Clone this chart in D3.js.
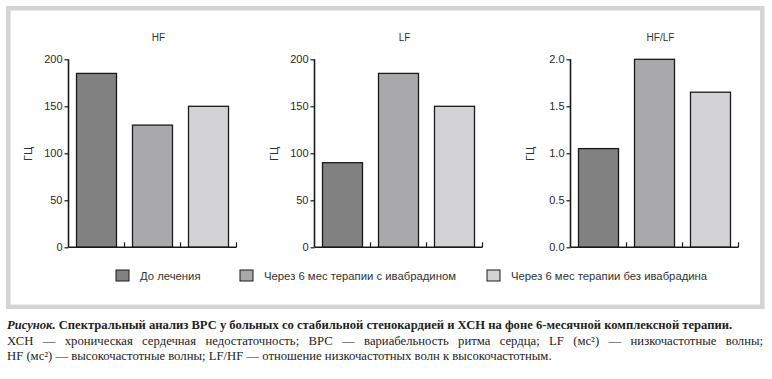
<!DOCTYPE html>
<html><head><meta charset="utf-8">
<script src="https://cdn.jsdelivr.net/npm/d3@7"></script>
<style>
html,body{margin:0;padding:0;background:#fff;}
svg{display:block;}
</style></head>
<body>
<script>
const groups = ["До лечения", "Через 6 мес терапии с ивабрадином", "Через 6 мес терапии без ивабрадина"];
const groupColors = ["#818182", "#a9a9ab", "#d3d3d5"];
const panelTitles = ["HF", "LF", "HF/LF"];
const hfValues = [185, 130, 150];
const lfValues = [90, 185, 150];
const ratioValues = [1.05, 2.0, 1.65];
const countTicks = [0, 50, 100, 150, 200];
const ratioTicks = [0, 0.5, 1.0, 1.5, 2.0];
const yLabel = "ГЦ";
const captionLines = [
  ["Рисунок.", " Спектральный анализ ВРС у больных со стабильной стенокардией и ХСН на фоне 6-месячной комплексной терапии."],
  "ХСН — хроническая сердечная недостаточность; ВРС — вариабельность ритма сердца; LF (мс²) — низкочастотные волны;",
  "HF (мс²) — высокочастотные волны; LF/HF — отношение низкочастотных волн к высокочастотным."
];

const panels = [
  {title: panelTitles[0], values: hfValues, ticks: countTicks, max: 200, fmt: d3.format("d")},
  {title: panelTitles[1], values: lfValues, ticks: countTicks, max: 200, fmt: d3.format("d")},
  {title: panelTitles[2], values: ratioValues, ticks: ratioTicks, max: 2, fmt: d3.format(".1f")}
];

const W = 772, H = 379;
const svg = d3.select("body").append("svg").attr("width", W).attr("height", H);

// frame
svg.append("rect").attr("x", 8.3).attr("y", 8.3).attr("width", 754).attr("height", 298.5)
  .attr("fill", "none").attr("stroke", "#d4d4d4").attr("stroke-width", 4.5);

const axisX = [68.5, 314.5, 570.5];
const plotW = 168, yTop = 59.3, yBot = 247.3;
const sans = "'Liberation Sans', Arial, sans-serif";
const p = 2/7;

panels.forEach((pn, i) => {
  const g = svg.append("g").attr("transform", `translate(${axisX[i]},0)`);
  const x = d3.scaleBand().domain(groups).range([0, plotW]).paddingInner(p).paddingOuter(p/2);
  const y = d3.scaleLinear().domain([0, pn.max]).range([yBot, yTop]);

  g.selectAll("rect.bar").data(pn.values).join("rect").attr("class", "bar")
    .attr("x", (d, j) => x(groups[j]))
    .attr("width", x.bandwidth())
    .attr("y", d => y(d))
    .attr("height", d => yBot - y(d))
    .attr("fill", (d, j) => groupColors[j])
    .attr("stroke", "#1a1a1a").attr("stroke-width", 1.3);

  const ya = g.append("g").call(d3.axisLeft(y).tickValues(pn.ticks).tickFormat(pn.fmt).tickSize(4).tickPadding(2));
  ya.select(".domain").attr("d", `M0,${yTop}V${yBot}`).attr("stroke", "#1a1a1a").attr("stroke-width", 1.6);
  ya.selectAll(".tick line").attr("stroke", "#1a1a1a").attr("stroke-width", 1.2);
  ya.selectAll(".tick text").attr("font-family", sans).attr("font-size", 11).attr("fill", "#2a2a2a");

  const xa = g.append("g").attr("transform", `translate(0,${yBot})`)
    .call(d3.axisBottom(x).tickSize(0).tickFormat(""));
  xa.select(".domain").attr("d", `M0,0H${plotW}`).attr("stroke", "#1a1a1a").attr("stroke-width", 1.6);
  xa.selectAll(".tick").remove();
  // band boundary ticks (pointing up)
  const bounds = groups.map(gname => x(gname) - x.step() * p / 2 + x.step());
  xa.selectAll("line.bt").data(bounds).join("line").attr("class", "bt")
    .attr("x1", d => d).attr("x2", d => d).attr("y1", 0).attr("y2", -5)
    .attr("stroke", "#1a1a1a").attr("stroke-width", 1.2);

  g.append("text").attr("x", 90).attr("y", 41).attr("text-anchor", "middle")
    .attr("font-family", sans).attr("font-size", 10).attr("fill", "#333").text(pn.title);

  g.append("text").attr("transform", `translate(${-40},${154}) rotate(-90)`)
    .attr("text-anchor", "middle").attr("dy", "0.35em")
    .attr("font-family", sans).attr("font-size", 11).attr("fill", "#333").text(yLabel);
});

// legend
const legX = [116, 240, 487];
const lg = svg.append("g");
groups.forEach((gname, j) => {
  lg.append("rect").attr("x", legX[j]).attr("y", 270).attr("width", 13).attr("height", 11)
    .attr("fill", groupColors[j]).attr("stroke", "#1a1a1a").attr("stroke-width", 1);
  lg.append("text").attr("x", legX[j] + 24).attr("y", 280)
    .attr("font-family", sans).attr("font-size", 11.3).attr("fill", "#333").text(gname);
});

// caption
const serif = "'Liberation Serif', 'Times New Roman', serif";
const capSize = 12.7;
const c1 = svg.append("text").attr("x", 7).attr("y", 329).attr("font-family", serif)
  .attr("font-size", 12.6).attr("font-weight", "bold").attr("fill", "#222");
c1.append("tspan").attr("font-style", "italic").text(captionLines[0][0]);
c1.append("tspan").text(captionLines[0][1]);

function justify(str, yPos, x0, x1) {
  const words = str.split(" ");
  const g = svg.append("g");
  const nodes = words.map(w => g.append("text").attr("y", yPos).attr("font-family", serif)
    .attr("font-size", capSize).attr("fill", "#222").text(w));
  const widths = nodes.map(n => n.node().getComputedTextLength());
  const total = d3.sum(widths);
  const gap = (x1 - x0 - total) / (words.length - 1);
  let cx = x0;
  nodes.forEach((n, k) => { n.attr("x", cx); cx += widths[k] + gap; });
}
justify(captionLines[1], 345, 7, 763);
svg.append("text").attr("x", 7).attr("y", 360).attr("font-family", serif)
  .attr("font-size", capSize).attr("fill", "#222").text(captionLines[2]);
</script>
</body></html>
